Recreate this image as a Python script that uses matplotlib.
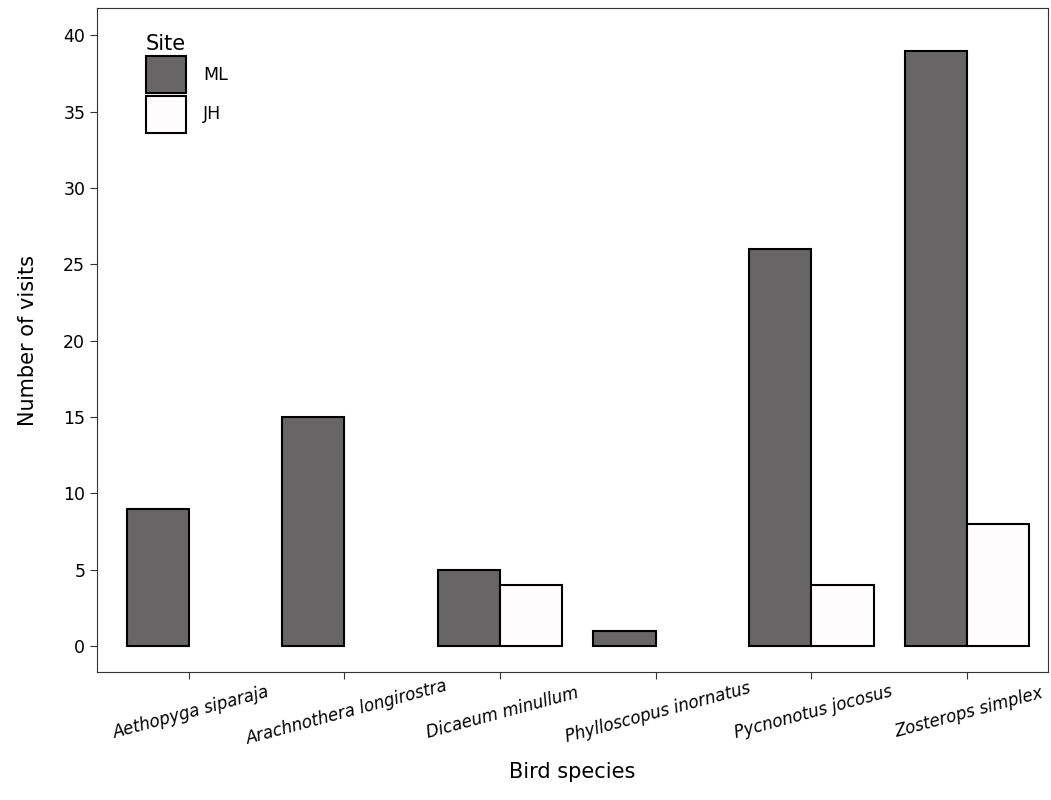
import numpy as np
from matplotlib import pyplot as plt

species = ['Aethopyga siparaja', 'Arachnothera longirostra', 'Dicaeum minullum',
           'Phylloscopus inornatus', 'Pycnonotus jocosus', 'Zosterops simplex']
ml_visits = [9, 15, 5, 1, 26, 39]
jh_visits = [0, 0, 4, 0, 4, 8]

fig = plt.figure(figsize=(10.51, 8), dpi=100)
ax = fig.add_axes([0.0923, 0.16, 0.9047, 0.83])

x = np.arange(len(species))
w = 0.4
ml = [(i, v) for i, v in zip(x, ml_visits) if v > 0]
jh = [(i, v) for i, v in zip(x, jh_visits) if v > 0]
ax.bar([i - w / 2 for i, _ in ml], [v for _, v in ml], width=w, color='#686566',
       edgecolor='black', linewidth=1.5, label='ML')
ax.bar([i + w / 2 for i, _ in jh], [v for _, v in jh], width=w, color='#fffcfd',
       edgecolor='black', linewidth=1.5, label='JH')

ax.set_xlim(-0.59, 5.52)
ax.set_ylim(-1.7, 41.8)
ax.set_yticks(range(0, 41, 5))
ax.set_xticks(x)
ax.set_xticklabels(species, rotation=15, ha='center', va='top', style='italic',
                   fontsize=12, rotation_mode='anchor')
ax.tick_params(axis='x', pad=18)
ax.tick_params(axis='y', labelsize=12.5)
ax.tick_params(length=5, color='#333333')
ax.set_xlabel('Bird species', fontsize=15, labelpad=10)
ax.set_ylabel('Number of visits', fontsize=15, labelpad=18)
for s in ax.spines.values():
    s.set_color('#333333')

leg = ax.legend(title='Site', loc='upper left', bbox_to_anchor=(0.035, 0.985),
                frameon=False, fontsize=12.5, title_fontsize=15,
                handlelength=2.3, handleheight=2.9, labelspacing=0.15,
                handletextpad=1.0)
leg._legend_box.align = 'left'

fig.savefig('out.png', dpi=100)
